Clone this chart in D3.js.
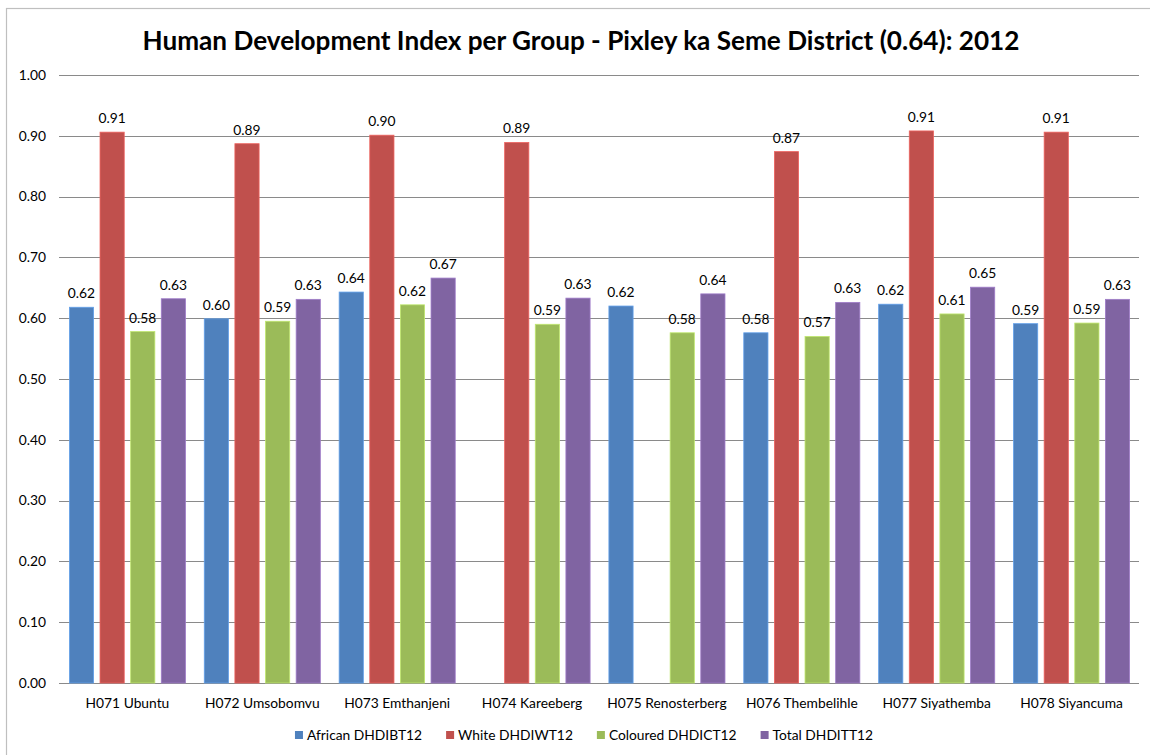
<!DOCTYPE html>
<html><head><meta charset="utf-8">
<script src="https://cdn.jsdelivr.net/npm/d3@7"></script>
<style>body{margin:0;background:#fff}svg{display:block}text{font-family:Lato,"Open Sans",sans-serif}</style>
</head><body><svg id="c" width="1150" height="755"></svg>
<script>
const categories = ["H071 Ubuntu","H072 Umsobomvu","H073 Emthanjeni","H074 Kareeberg","H075 Renosterberg","H076 Thembelihle","H077 Siyathemba","H078 Siyancuma"];
const seriesNames = ["African DHDIBT12","White DHDIWT12","Coloured DHDICT12","Total DHDITT12"];
const african = [0.618,0.599,0.643,null,0.620,0.576,0.623,0.591];
const white = [0.906,0.887,0.901,0.889,null,0.874,0.908,0.906];
const coloured = [0.578,0.595,0.622,0.590,0.576,0.570,0.607,0.592];
const total = [0.632,0.631,0.666,0.633,0.640,0.626,0.651,0.631];
const yTicks = [0,0.1,0.2,0.3,0.4,0.5,0.6,0.7,0.8,0.9,1.0];
const title = "Human Development Index per Group - Pixley ka Seme District (0.64): 2012";

const colors = ["#4F81BD","#C0504D","#9BBB59","#8064A2"];
const series = [african, white, coloured, total];
const FS = 13.8;

const svg = d3.select("#c");
const L = 60, R = 1139, T = 75, B = 683;

svg.append("rect").attr("x",6.5).attr("y",8.5).attr("width",1160).attr("height",760)
  .attr("fill","none").attr("stroke","#bfbfbf").attr("stroke-width",1.2);

const y = d3.scaleLinear().domain([0,1]).range([B,T]);
const x0 = d3.scaleBand().domain(categories).range([L,R]).paddingInner(0).paddingOuter(0);
const x1 = d3.scaleBand().domain(d3.range(4)).range([9.4, x0.bandwidth()-9.4]).paddingInner(0.21).paddingOuter(0);

svg.append("g").selectAll("line").data(yTicks).join("line")
  .attr("x1",L-1).attr("x2",R).attr("y1",d=>Math.round(y(d))+0.5).attr("y2",d=>Math.round(y(d))+0.5)
  .attr("stroke","#8a8a8a").attr("stroke-width",1);

svg.append("g").selectAll("text").data(yTicks).join("text")
  .attr("x",L-14).attr("y",d=>y(d)).attr("dy","0.35em").attr("text-anchor","end")
  .attr("font-size",FS).attr("fill","#000").text(d=>d.toFixed(2));

const g = svg.append("g");
series.forEach((vals,si)=>{
  const data = categories.map((c,i)=>({c,v:vals[i]})).filter(d=>d.v!=null);
  g.append("g").selectAll("rect").data(data).join("rect")
    .attr("x",d=>x0(d.c)+x1(si)).attr("width",x1.bandwidth())
    .attr("y",d=>y(d.v)).attr("height",d=>y(0)-y(d.v))
    .attr("fill",colors[si]).attr("stroke",d3.color(colors[si]).brighter(0.6)).attr("stroke-width",0.8);
  g.append("g").selectAll("text").data(data).join("text")
    .attr("x",d=>x0(d.c)+x1(si)+x1.bandwidth()/2).attr("y",d=>y(d.v)-9)
    .attr("text-anchor","middle").attr("font-size",FS).attr("fill","#000")
    .text(d=>d.v.toFixed(2));
});

svg.append("g").selectAll("text").data(categories).join("text")
  .attr("x",d=>x0(d)+x0.bandwidth()/2).attr("y",708).attr("text-anchor","middle")
  .attr("font-size",FS).attr("fill","#000").text(d=>d);

const t = svg.append("text").attr("x",581).attr("y",50).attr("text-anchor","middle")
  .attr("font-size",24).attr("font-weight","bold").attr("fill","#000").text(title);
const tw = t.node().getComputedTextLength();
t.attr("font-size", 24*877/tw);

const lg = svg.append("g");
const items = lg.selectAll("g").data(seriesNames).join("g");
items.append("rect").attr("width",8).attr("height",8).attr("y",-9).attr("fill",(d,i)=>colors[i]);
items.append("text").attr("x",12).attr("y",0).attr("font-size",FS).attr("fill","#000").text(d=>d);
let widths = [];
items.each(function(){widths.push(this.getBBox().width);});
const gap = 24;
const totalW = d3.sum(widths)+gap*(widths.length-1);
let cx = 584 - totalW/2;
items.attr("transform",(d,i)=>{const tx=cx; cx+=widths[i]+gap; return `translate(${tx},740)`;});
</script></body></html>
